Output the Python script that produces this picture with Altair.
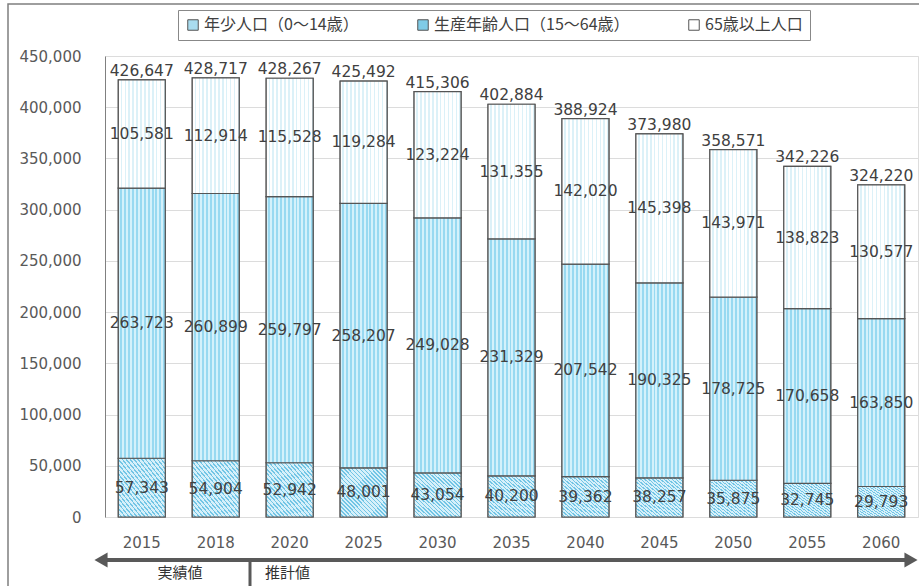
import altair as alt
import pandas as pd

years = ["2015", "2018", "2020", "2025", "2030", "2035", "2040", "2045", "2050", "2055", "2060"]
young = [57343, 54904, 52942, 48001, 43054, 40200, 39362, 38257, 35875, 32745, 29793]
working = [263723, 260899, 259797, 258207, 249028, 231329, 207542, 190325, 178725, 170658, 163850]
elderly = [105581, 112914, 115528, 119284, 123224, 131355, 142020, 145398, 143971, 138823, 130577]
total = [426647, 428717, 428267, 425492, 415306, 402884, 388924, 373980, 358571, 342226, 324220]
series_names = ["年少人口（0～14歳）", "生産年齢人口（15～64歳）", "65歳以上人口"]
y_ticks = [0, 50000, 100000, 150000, 200000, 250000, 300000, 350000, 400000, 450000]

JP = "Noto Sans CJK JP"
NUM = "DejaVu Sans"

df = pd.DataFrame({"year": years, "young": young, "working": working,
                   "elderly": elderly, "total": total})
df["b0"] = 0
df["b1"] = df["young"]
df["b2"] = df["young"] + df["working"]
df["b3"] = df["b2"] + df["elderly"]
df["m1"] = df["b1"] / 2
df["m2"] = (df["b1"] + df["b2"]) / 2
df["m3"] = (df["b2"] + df["b3"]) / 2

long = pd.DataFrame({
    "year": years * 3,
    "series": [series_names[0]] * 11 + [series_names[1]] * 11 + [series_names[2]] * 11,
    "value": young + working + elderly,
    "ord": [0] * 11 + [1] * 11 + [2] * 11,
})


def stripes(base, line, n, frac, x1, y1, x2, y2):
    stops = []
    for k in range(n):
        a = k / n
        b = (k + frac) / n
        c = (k + 1) / n
        stops += [{"offset": a, "color": base}, {"offset": b, "color": base},
                  {"offset": b, "color": line}, {"offset": c, "color": line}]
    return {"gradient": "linear", "x1": x1, "y1": y1, "x2": x2, "y2": y2, "stops": stops}


grad_young = stripes("#d6f0fa", "#72c5e5", 24, 0.62, 0, 1, 1, 0)
grad_work = stripes("#d4f1fb", "#98d9f1", 12, 0.5, 0, 0, 1, 0)
grad_old = stripes("#ffffff", "#dcf1f8", 12, 0.6, 0, 0, 1, 0)

xenc = alt.X("year:N", title=None, sort=years,
             scale=alt.Scale(paddingInner=0.365, paddingOuter=0.18),
             axis=alt.Axis(labelFontSize=15, labelColor="#595959", labelFont=NUM,
                           labelPadding=18, ticks=False, domain=False, labelAngle=0))
yscale = alt.Scale(domain=[0, 450000], nice=False)

legend_layer = alt.Chart(long).mark_bar(stroke="#555555", strokeWidth=1.2).encode(
    x=xenc,
    y=alt.Y("value:Q", stack="zero", scale=yscale, title=None,
            axis=alt.Axis(values=y_ticks, format=",d", labelFontSize=15, labelColor="#595959",
                          labelFont=NUM, labelPadding=24, ticks=False, gridColor="#dcdcdc",
                          domainColor="#808080")),
    color=alt.Color("series:N", scale=alt.Scale(domain=series_names,
                                                range=["#a9dcef", "#7fcbe6", "#ffffff"]),
                    legend=alt.Legend(title=None, orient="none", legendX=73, legendY=-46,
                                      direction="horizontal", symbolType="square",
                                      symbolSize=110, symbolStrokeColor="#555555",
                                      symbolStrokeWidth=1, labelFontSize=16, labelFont=JP,
                                      labelColor="#404040", columnPadding=56, padding=7,
                                      labelOffset=3,
                                      strokeColor="#888888", fillColor="#ffffff",
                                      labelLimit=400)),
    order=alt.Order("ord:Q"),
)

base = alt.Chart(df).encode(x=xenc)

seg1 = base.mark_bar(fill=grad_young, stroke="#555555", strokeWidth=1.2).encode(
    y=alt.Y("b0:Q", scale=yscale), y2="b1:Q")
seg2 = base.mark_bar(fill=grad_work, stroke="#555555", strokeWidth=1.2).encode(
    y=alt.Y("b1:Q", scale=yscale), y2="b2:Q")
seg3 = base.mark_bar(fill=grad_old, stroke="#555555", strokeWidth=1.2).encode(
    y=alt.Y("b2:Q", scale=yscale), y2="b3:Q")

tstyle = dict(font=NUM, fontSize=15.5, color="#404040")
t1 = base.mark_text(baseline="middle", **tstyle).encode(
    y=alt.Y("m1:Q", scale=yscale), text=alt.Text("young:Q", format=",d"))
t2 = base.mark_text(baseline="middle", **tstyle).encode(
    y=alt.Y("m2:Q", scale=yscale), text=alt.Text("working:Q", format=",d"))
t3 = base.mark_text(baseline="middle", **tstyle).encode(
    y=alt.Y("m3:Q", scale=yscale), text=alt.Text("elderly:Q", format=",d"))
t4 = base.mark_text(baseline="bottom", dy=-1, **tstyle).encode(
    y=alt.Y("total:Q", scale=yscale), text=alt.Text("total:Q", format=",d"))

one = pd.DataFrame({"k": [0]})
arrow = alt.Chart(one).mark_rule(color="#595959", strokeWidth=4).encode(
    x=alt.value(-4), x2=alt.value(806), y=alt.value(504))
head_l = alt.Chart(one).mark_point(shape="triangle-left", filled=True, size=230,
                                   color="#595959", opacity=1).encode(
    x=alt.value(-4), y=alt.value(504))
head_r = alt.Chart(one).mark_point(shape="triangle-right", filled=True, size=230,
                                   color="#595959", opacity=1).encode(
    x=alt.value(806), y=alt.value(504))
sep = alt.Chart(one).mark_rule(color="#595959", strokeWidth=3).encode(
    x=alt.value(145), y=alt.value(504), y2=alt.value(540))
lab_a = alt.Chart(one).mark_text(text="実績値", font=JP, fontSize=15, color="#333333",
                                 align="center", baseline="middle").encode(
    x=alt.value(75), y=alt.value(517))
lab_b = alt.Chart(one).mark_text(text="推計値", font=JP, fontSize=15, color="#333333",
                                 align="left", baseline="middle").encode(
    x=alt.value(160), y=alt.value(517))
outer = alt.Chart(one).mark_rect(fillOpacity=0, stroke="#7f7f7f", strokeWidth=1.5).encode(
    x=alt.value(-97), x2=alt.value(840), y=alt.value(-52), y2=alt.value(600))

chart = alt.layer(
    outer, legend_layer, seg1, seg2, seg3, t1, t2, t3, t4,
    arrow, head_l, head_r, sep, lab_a, lab_b
).properties(
    width=813, height=461,
    padding={"left": 105, "top": 56, "right": 1, "bottom": 69},
    autosize=alt.AutoSizeParams(type="none"),
).configure_view(stroke="#808080", strokeWidth=1.2).configure(font=JP)

chart.save("out.html", embed_options={"renderer": "svg", "actions": False})
